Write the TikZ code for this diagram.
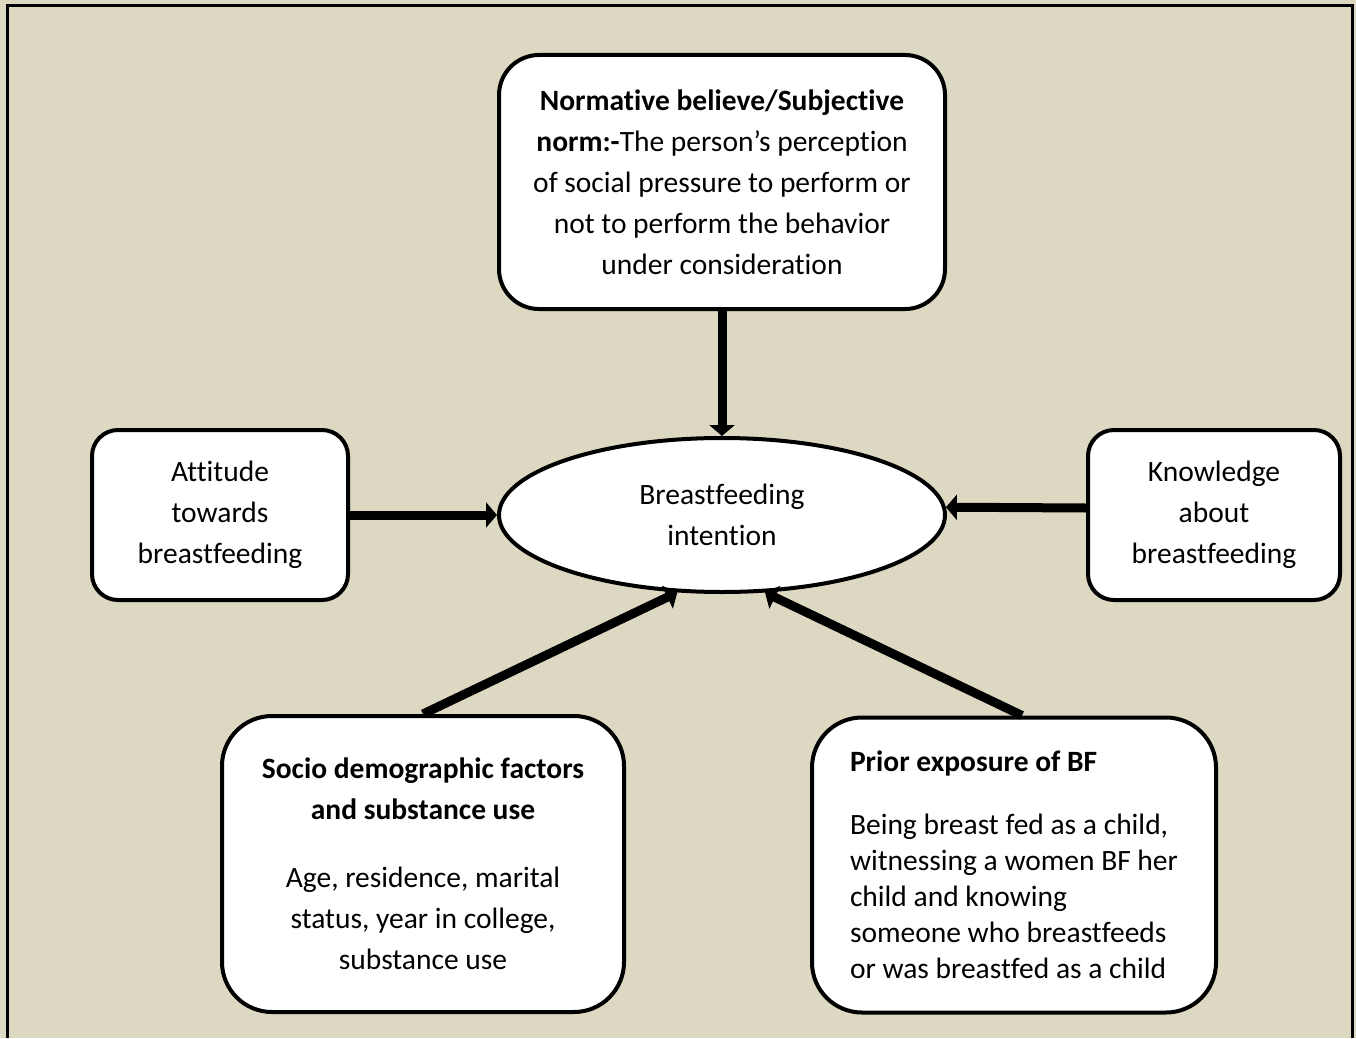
\documentclass[tikz,border=0pt]{standalone}
\usepackage{fontspec}
\setmainfont{Carlito}[Ligatures=NoCommon]
\usetikzlibrary{shapes.geometric, arrows.meta}
\definecolor{tan-bg}{HTML}{DDD8C2}

\begin{document}
\begin{tikzpicture}[x=1pt, y=-1pt,
        every node/.style={font=\fontsize{29.5}{41}\selectfont},
        factor/.style={draw, line width=4pt, fill=white, align=center},
        link/.style={line width=9pt, -{Triangle[length=11pt, width=25pt]}}]
      % page and frame
      \useasboundingbox (0,0) rectangle (1356,1038);
      \fill[tan-bg] (0,0) rectangle (1356,1038);
      \draw[line width=3pt] (7,1038) -- (7,6) -- (1352,6) -- (1352,1038);
      % centre
      \node[factor, ellipse, minimum width=446pt, minimum height=154pt] (intent) at (722,515)
            {Breastfeeding\\ intention};
      % top factor
      \node[factor, rounded corners=40pt, minimum width=446pt, minimum height=254pt] (norm) at (722,182)
            {\textbf{Normative believe/Subjective}\\ \textbf{norm:-}The person’s perception\\
             of social pressure to perform or\\ not to perform the behavior\\ under consideration};
      % side factors
      \node[factor, rounded corners=26pt, minimum width=256pt, minimum height=170pt] (attitude) at (220,515)
            {Attitude\\ towards\\ breastfeeding};
      \node[factor, rounded corners=26pt, minimum width=252pt, minimum height=170pt] (know) at (1214,515)
            {Knowledge\\ about\\ breastfeeding};
      % bottom factors
      \node[factor, rounded corners=50pt, minimum width=402pt, minimum height=296pt] (socio) at (423,864)
            {\textbf{Socio demographic factors}\\ \textbf{and substance use}\\[27pt]
             Age, residence, marital\\ status, year in college,\\ substance use};
      \node[factor, rounded corners=50pt, minimum width=404pt, minimum height=295pt,
            align=flush left, text width=328pt, font=\fontsize{29.5}{36}\selectfont] (prior) at (1014,865)
            {\textbf{Prior exposure of BF}\\[27pt]
             Being breast fed as a child,\\ witnessing a women BF her\\ child and knowing\\
             someone who breastfeeds\\ or was breastfed as a child};
      % arrows into the ellipse
      \draw[link] (norm.south) -- (intent.north);
      \draw[link] (attitude.east) -- (intent.west);
      \draw[link] ([yshift=7pt]know.west) -- (intent.2);
      \draw[link] (socio.north) -- (intent.240);
      \draw[link] ([xshift=8pt]prior.north) -- (intent.299);
    \end{tikzpicture}
\end{document}
